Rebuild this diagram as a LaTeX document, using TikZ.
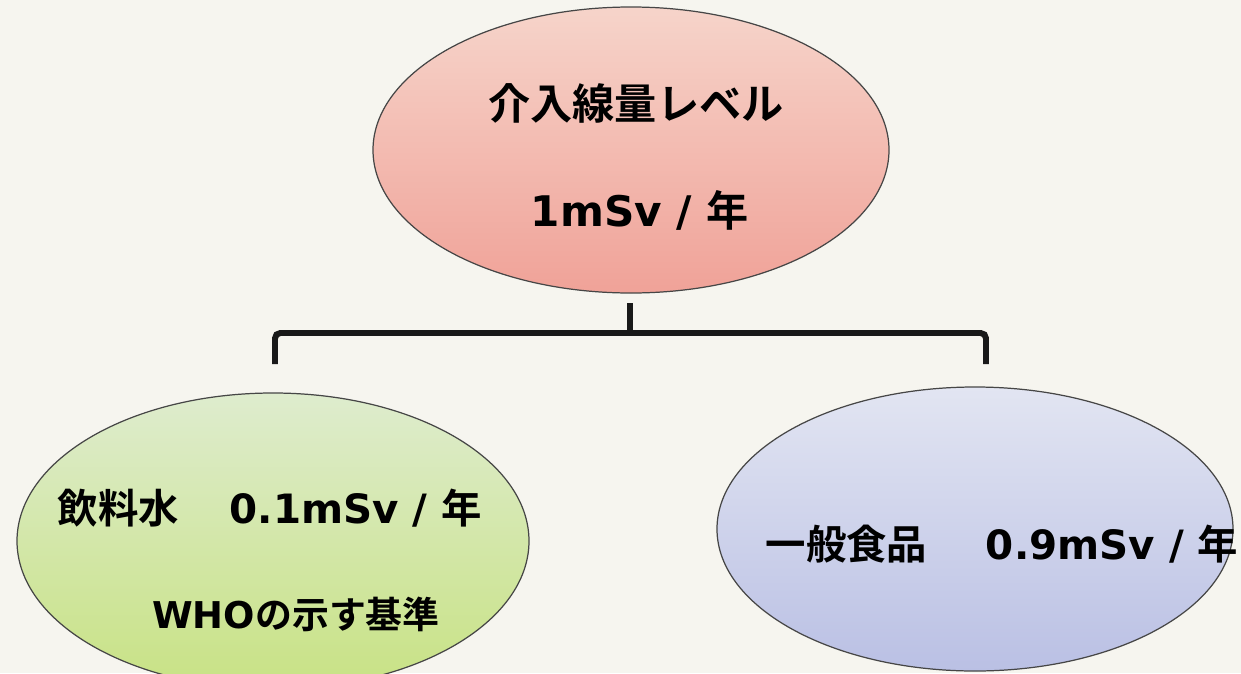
\documentclass[tikz,border=0pt]{standalone}
\usepackage{fontspec}
\newfontfamily\jp{Noto Sans CJK JP}[BoldFont={Noto Sans CJK JP Bold}]
\newfontfamily\lat{DejaVu Sans}
\usetikzlibrary{shapes.geometric}
\definecolor{paper}{RGB}{246,245,239}
\definecolor{pinktop}{RGB}{246,212,202}
\definecolor{pinkbot}{RGB}{240,162,152}
\definecolor{greentop}{RGB}{222,236,206}
\definecolor{greenbot}{RGB}{200,226,132}
\definecolor{bluetop}{RGB}{226,229,242}
\definecolor{bluebot}{RGB}{186,192,228}
\definecolor{rim}{RGB}{70,70,70}
\newcommand{\latb}[1]{{\lat\bfseries #1}}
\tikzset{
  oval/.style={ellipse, draw=rim, line width=0.7pt, inner sep=0pt,
    minimum width=#1*0.02cm},
  lbl/.style={font=\jp\bfseries, inner sep=0pt, text=black},
  brace/.style={line width=3.4pt, draw=black!90, rounded corners=3pt, line cap=butt}
}
\begin{document}
\begin{tikzpicture}[x=0.02cm,y=-0.02cm]
\fill[paper] (0,0) rectangle (1241,673);
\useasboundingbox (0,0) rectangle (1241,673);
% ellipses
\node[oval=516, minimum height=286*0.02cm, top color=pinktop, bottom color=pinkbot] (top) at (631,150) {};
\node[oval=512, minimum height=296*0.02cm, top color=greentop, bottom color=greenbot] (left) at (273,541) {};
\node[oval=516, minimum height=284*0.02cm, top color=bluetop, bottom color=bluebot] (right) at (975,529) {};
% labels
\node[lbl, font=\jp\bfseries\fontsize{24}{28}\selectfont] (t1) at (636,103) {介入線量レベル};
\node[lbl, font=\jp\bfseries\fontsize{24}{28}\selectfont] (t2) at (640,210) {\latb{1mSv / }年};
\node[lbl, font=\jp\bfseries\fontsize{23}{27}\selectfont] (g1) at (270,508) {飲料水\hspace{1.25em}\latb{0.1mSv / }年};
\node[lbl, font=\jp\bfseries\fontsize{21}{25}\selectfont] (g2) at (296,614) {\latb{WHO}の示す基準};
\node[lbl, font=\jp\bfseries\fontsize{23}{27}\selectfont] (b1) at (1002,544) {一般食品\hspace{1.45em}\latb{0.9mSv / }年};
% bracket
\coordinate (bt) at (630,303);
\coordinate (bm) at (630,333);
\coordinate (bl) at (275,364);
\coordinate (br) at (986,364);
\draw[brace] (bl) |- (bm) -| (br);
\draw[brace] (bt) -- (bm);
\end{tikzpicture}
\end{document}
